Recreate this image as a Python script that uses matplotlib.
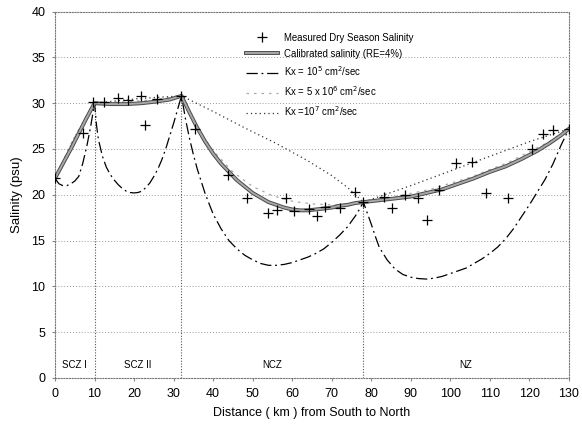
import matplotlib
matplotlib.use("Agg")
import matplotlib.pyplot as plt
import matplotlib.patheffects as pe

plt.rcParams['font.family'] = ['Liberation Sans', 'DejaVu Sans']

# measured dry season salinity
meas_x = [0, 7.1, 9.6, 12.4, 15.9, 18.5, 21.7, 22.8, 25.8, 32, 35.4, 43.7, 48.5,
          54.0, 56.1, 58.4, 60.4, 64.3, 66.2, 68.2, 72.1, 75.9, 78, 83.2, 85.2,
          88.5, 91.8, 94.1, 97.1, 101.4, 105.5, 109.0, 114.6, 120.6, 123.4, 126.0, 130]
meas_y = [21.8, 26.8, 30.1, 30.1, 30.6, 30.4, 30.8, 27.6, 30.5, 30.8, 27.2, 22.2, 19.7,
          18.0, 18.3, 19.6, 18.2, 18.5, 17.7, 18.7, 18.6, 20.3, 19.2, 19.8, 18.6,
          20.0, 19.6, 17.2, 20.5, 23.5, 23.6, 20.2, 19.7, 25.0, 26.6, 27.1, 27.2]

# calibrated salinity
cal_x = [0, 2, 4, 6, 8, 10, 14, 18, 22, 26, 29, 32,
         34, 36, 38, 40, 42, 44, 46, 48, 50, 52, 54, 56, 58, 60, 62, 64, 66, 68, 70, 72, 74, 76, 78,
         82, 86, 90, 94, 98, 102, 106, 110, 114, 118, 122, 125, 128, 130]
cal_y = [21.8, 23.4, 25.0, 26.7, 28.4, 30.0, 29.9, 29.9, 30.0, 30.2, 30.4, 30.8,
         29.0, 27.3, 25.8, 24.5, 23.4, 22.5, 21.6, 20.9, 20.2, 19.7, 19.2, 18.9, 18.6, 18.4, 18.3, 18.3, 18.4, 18.5, 18.6, 18.8, 18.9, 19.1, 19.2,
         19.4, 19.6, 19.8, 20.2, 20.6, 21.2, 21.8, 22.5, 23.1, 23.9, 24.8, 25.6, 26.5, 27.2]

# Kx = 1e5
k5_x = [0, 1, 2, 3, 4, 5, 6, 7, 8, 9, 10,
        10.5, 11, 12, 13, 14, 15, 16, 17, 18, 19, 20, 21, 22, 23, 24, 25, 26, 27, 28, 29, 30, 31, 32,
        33, 34, 35, 36, 38, 40, 42, 44, 46, 48, 50, 52, 54, 56, 58, 60, 62, 64, 66, 68, 70, 72, 74, 75, 76, 77, 78,
        79, 80, 81, 82, 84, 86, 88, 90, 92, 94, 96, 98, 100, 102, 104, 106, 108, 110, 112, 114, 116, 118, 120,
        122, 124, 126, 128, 129, 130]
k5_y = [21.8, 21.2, 21.0, 21.0, 21.2, 21.5, 22.0, 23.4, 25.2, 27.4, 30.0,
        27.6, 26.0, 24.2, 23.0, 22.2, 21.6, 21.1, 20.7, 20.4, 20.25, 20.2, 20.25, 20.4, 20.8, 21.3, 22.0, 22.8, 23.8, 25.0, 26.4, 27.8, 29.3, 30.8,
        28.3, 26.2, 24.4, 22.8, 20.1, 17.9, 16.3, 15.0, 14.1, 13.4, 12.9, 12.5, 12.3, 12.3, 12.4, 12.6, 12.9, 13.2, 13.6, 14.1, 14.8, 15.6, 16.5, 17.1, 17.7, 18.4, 19.2,
        18.0, 16.8, 15.5, 14.3, 12.9, 11.9, 11.3, 11.0, 10.85, 10.8, 10.9, 11.1, 11.4, 11.7, 12.0, 12.5, 13.0, 13.6, 14.3, 15.2, 16.3, 17.6, 18.9,
        20.3, 21.7, 23.4, 25.4, 26.3, 27.2]

# Kx = 5e6
k56_x = [0, 2, 4, 6, 8, 10, 15, 20, 25, 32,
         35, 40, 45, 50, 55, 60, 65, 70, 75, 78,
         85, 95, 105, 115, 125, 130]
k56_y = [21.8, 23.7, 25.5, 27.1, 28.6, 30.0, 30.1, 30.2, 30.4, 30.8,
         28.0, 24.8, 22.5, 20.9, 19.9, 19.3, 19.0, 18.9, 19.0, 19.2,
         19.7, 20.6, 21.9, 23.6, 25.8, 27.2]

# Kx = 1e7
k7_x = [0, 5, 10, 21, 32, 40, 48, 56, 64, 70, 74, 78, 90, 100, 110, 120, 130]
k7_y = [21.8, 26.3, 30.0, 30.5, 30.8, 29.1, 27.3, 25.6, 23.7, 22.1, 20.8, 19.2,
        21.0, 22.6, 24.2, 25.8, 27.2]

zone_x = [10, 32, 78]
zone_top = [30.0, 30.8, 19.2]
zone_names = ['SCZ I', 'SCZ II', 'NCZ', 'NZ']
zone_mid = [5, 21, 55, 104]

fig = plt.figure(figsize=(5.82, 4.30), dpi=100)
ax = fig.add_axes([0.0945, 0.121, 0.883, 0.852])

for yv in range(5, 40, 5):
    ax.axhline(yv, color='#9a9a9a', lw=0.7, ls=(0, (1, 2)), zorder=0)
for xv, top in zip(zone_x, zone_top):
    ax.plot([xv, xv], [0, top], color='#555555', lw=0.8, ls=(0, (1, 1.5)), zorder=1)

ax.plot(meas_x, meas_y, ls='none', marker='+', ms=7, mew=0.9, color='black',
        label='Measured Dry Season Salinity', zorder=5)
ax.plot(cal_x, cal_y, color='#a8a8a8', lw=1.4, zorder=4,
        path_effects=[pe.Stroke(linewidth=2.8, foreground='#4a4a4a'), pe.Normal()],
        label='Calibrated salinity (RE=4%)')
ax.plot(k5_x, k5_y, color='black', lw=0.9, ls=(0, (9, 3, 1.5, 3)),
        label='Kx = 10$^5$ cm$^2$/sec', zorder=3)
ax.plot(k56_x, k56_y, color='#a8a8a8', lw=0.9, ls=(0, (2, 4)),
        label='Kx = 5 x 10$^6$ cm$^2$/sec', zorder=2)
ax.plot(k7_x, k7_y, color='#333333', lw=0.9, ls=(0, (1, 2.5)),
        label='Kx =10$^7$ cm$^2$/sec', zorder=2)

for name, xm in zip(zone_names, zone_mid):
    ax.text(xm, 1.4, name, ha='center', va='center', fontsize=7)

ax.set_xlim(0, 130)
ax.set_ylim(0, 40)
ax.set_xticks(range(0, 131, 10))
ax.set_yticks(range(0, 41, 5))
ax.tick_params(labelsize=9, length=2, color='#888888', pad=5)
for s in ax.spines.values():
    s.set_linestyle((0, (1, 1.5)))
    s.set_color('#777777')
    s.set_linewidth(0.8)

ax.set_xlabel('Distance ( km ) from South to North', fontsize=9, labelpad=5)
ax.set_ylabel('Salinity (psu)', fontsize=9.5, labelpad=6)

ax.legend(loc='upper left', bbox_to_anchor=(0.355, 0.966), frameon=False, fontsize=6.9,
          handlelength=3.3, handletextpad=0.7, labelspacing=0.62)

fig.savefig('out.png', dpi=100)
